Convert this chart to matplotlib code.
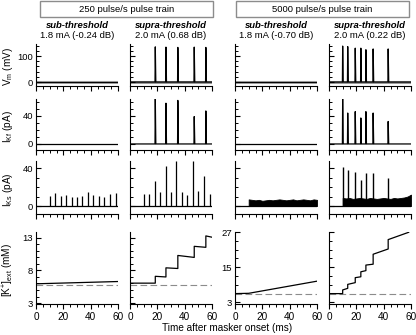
import numpy as np
import matplotlib.pyplot as plt
from matplotlib.ticker import MultipleLocator
from matplotlib.patches import Rectangle

plt.rcParams['font.family'] = ['Liberation Sans', 'DejaVu Sans']
plt.rcParams['mathtext.default'] = 'regular'
plt.rcParams['font.size'] = 6.8

# ---- text ----
headers = ['250 pulse/s pulse train', '5000 pulse/s pulse train']
conditions = ['sub-threshold', 'supra-threshold', 'sub-threshold', 'supra-threshold']
levels = ['1.8 mA (-0.24 dB)', '2.0 mA (0.68 dB)', '1.8 mA (-0.70 dB)', '2.0 mA (0.22 dB)']
ylabels = ['V$_{m}$ (mV)', 'I$_{Kf}$ (pA)', 'I$_{Ks}$ (pA)', '[K$^{+}$]$_{ext}$ (mM)']
xlabel = 'Time after masker onset (ms)'

# ---- data (ms, mV, pA, mM) ----
# spikes, 250 pulse/s supra-threshold
spk_250 = [18.5, 26.3, 35.0, 47.0, 55.5]
vm_250 = [135, 134, 133, 134, 133]
ikf_250 = [65, 58, 62, 39, 47]
# spikes, 5000 pulse/s supra-threshold
spk_5000 = [10.0, 13.7, 19.2, 23.3, 27.0, 32.3, 43.3]
vm_5000 = [138, 136, 130, 130, 124, 127, 127]
ikf_5000 = [65, 44, 46, 37, 46, 44, 32]

# IKs per pulse, 250 pulse/s
pulse_250 = [10, 14, 18, 22, 26, 30, 34, 38, 42, 46, 50, 54, 58.5]
iks_sub_250 = [10.2, 13.7, 10.5, 11.2, 9.2, 9.8, 10.2, 15.0, 11.6, 10.2, 9.8, 12.6, 13.3]
iks_supra_250 = [13.0, 12.5, 26.0, 14.7, 42.0, 14.7, 47.0, 15.0, 12.0, 47.0, 15.5, 32.0, 13.0]

# IKs envelope, 5000 pulse/s (dense pulses)
env_t = [10, 12.5, 15, 17.5, 20, 22.5, 25, 27.5, 30, 32.5, 35, 37.5, 40,
         42.5, 45, 47.5, 50, 52.5, 55, 57.5, 60]
iks_sub_5000 = [7.0, 6.5, 6.0, 6.5, 5.5, 6.0, 6.5, 6.0, 6.5, 7.0, 6.5, 6.0,
                6.5, 7.0, 6.0, 6.5, 7.0, 6.5, 6.0, 7.0, 6.5]
iks_supra_5000 = [8.5, 8.0, 8.5, 7.5, 8.0, 8.5, 8.0, 7.5, 8.5, 8.0, 7.5, 8.0,
                  8.5, 8.0, 7.5, 8.5, 8.0, 8.5, 9.0, 10.0, 12.0]
iks_pk_5000 = [41, 38, 36, 27, 35, 35, 29]

# extracellular K+
k_rest = 5.8
k_sub_250_t = [0, 60]
k_sub_250 = [5.95, 6.3]
k_pre_250 = [6.05, 7.0, 8.3, 10.0, 11.55]
k_post_250 = [7.1, 8.4, 10.3, 11.7, 13.3]
k_end_250 = 13.1
k_sub_5000_t = [0, 10, 60]
k_sub_5000 = [5.95, 6.05, 10.2]
k_pre_5000 = [5.95, 7.75, 9.7, 11.7, 13.8, 16.0, 21.2]
k_post_5000 = [7.2, 9.1, 11.4, 13.4, 15.7, 19.4, 24.4]
k_end_5000 = (58.3, 26.9)


def spike_trace(times, peaks):
    t, v = [0], [0]
    for s, p in zip(times, peaks):
        t += [s - 0.2, s, s + 0.4]
        v += [0, p, 0]
    return t + [60], v + [0]


def step_trace(times, pre, post, end_t, end_v):
    t, v = [0], [pre[0]]
    for s, a, b in zip(times, pre, post):
        t += [s, s]
        v += [a, b]
    return t + [end_t], v + [end_v]


W, H = 416, 335
fig = plt.figure(figsize=(W / 100, H / 100), dpi=100)

col_x = [36, 130, 235, 329]
col_w = 82
row_y = [(44, 86), (99, 150), (161, 214), (232, 304)]
ylims = [(-15, 146), (-8.6, 64), (-8.4, 47.4)]

axes = [[None] * 4 for _ in range(4)]
for r in range(4):
    for c in range(4):
        y0, y1 = row_y[r]
        ax = fig.add_axes([col_x[c] / W, 1 - y1 / H, col_w / W, (y1 - y0) / H])
        axes[r][c] = ax
        ax.spines[['top', 'right']].set_visible(False)
        for s in ['left', 'bottom']:
            ax.spines[s].set_linewidth(0.8)
        ax.set_xlim(0, 60)
        ax.xaxis.set_major_locator(MultipleLocator(20))
        ax.xaxis.set_minor_locator(MultipleLocator(5))
        ax.tick_params(axis='x', which='major', direction='out', length=3.5, width=0.8, pad=2,
                       labelsize=7.2)
        ax.tick_params(axis='x', which='minor', direction='out', length=2, width=0.7)
        ax.tick_params(axis='y', which='major', direction='in', length=3.5, width=0.8, pad=2)
        ax.tick_params(axis='y', which='minor', direction='in', length=2, width=0.7)
        if r < 3:
            ax.tick_params(axis='x', labelbottom=False)
            ax.set_ylim(*ylims[r])
        if c > 0 and not (r == 3 and c == 2):
            ax.tick_params(axis='y', labelleft=False)

# row 1: Vm
for c in range(4):
    ax = axes[0][c]
    ax.yaxis.set_major_locator(MultipleLocator(100))
    ax.yaxis.set_minor_locator(MultipleLocator(20))
    ax.axhline(0, color='0.6', lw=2.2, zorder=1)
axes[0][0].plot([0, 60], [0, 0], color='k', lw=0.7)
axes[0][2].plot([0, 60], [0, 0], color='k', lw=0.7)
t, v = spike_trace(spk_250, vm_250)
axes[0][1].plot(t, v, color='k', lw=0.9)
t, v = spike_trace(spk_5000, vm_5000)
axes[0][3].plot(t, v, color='k', lw=0.9)

# row 2: IKf
for c in range(4):
    ax = axes[1][c]
    ax.yaxis.set_major_locator(MultipleLocator(40))
    ax.yaxis.set_minor_locator(MultipleLocator(10))
axes[1][0].plot([0, 60], [0, 0], color='k', lw=0.9)
axes[1][2].plot([0, 60], [0, 0], color='k', lw=0.9)
t, v = spike_trace(spk_250, ikf_250)
axes[1][1].plot(t, v, color='k', lw=0.9)
t, v = spike_trace(spk_5000, ikf_5000)
axes[1][3].plot(t, v, color='k', lw=0.9)

# row 3: IKs
for c in range(4):
    ax = axes[2][c]
    ax.yaxis.set_major_locator(MultipleLocator(40))
    ax.yaxis.set_minor_locator(MultipleLocator(10))
    ax.plot([0, 60], [0, 0], color='k', lw=0.9)
axes[2][0].vlines(pulse_250, 0, iks_sub_250, color='k', lw=0.9)
axes[2][1].vlines(pulse_250, 0, iks_supra_250, color='k', lw=0.9)
axes[2][2].fill_between(env_t, 0, iks_sub_5000, color='k', lw=0.6)
axes[2][3].fill_between(env_t, 0, iks_supra_5000, color='k', lw=0.6)
axes[2][3].vlines(spk_5000, 0, iks_pk_5000, color='k', lw=1.0)

# row 4: [K+]ext
for c in range(4):
    ax = axes[3][c]
    ax.axhline(k_rest, color='0.55', lw=0.8, dashes=(6, 3), zorder=1)
    if c < 2:
        ax.set_ylim(2.85, 13.9)
        ax.set_yticks([3, 8, 13])
        ax.yaxis.set_minor_locator(MultipleLocator(1))
    else:
        ax.set_ylim(2.4, 27)
        ax.set_yticks([3, 15, 27])
        ax.yaxis.set_minor_locator(MultipleLocator(3))
axes[3][0].plot(k_sub_250_t, k_sub_250, color='k', lw=0.9)
t, v = step_trace(spk_250, k_pre_250, k_post_250, 60, k_end_250)
axes[3][1].plot(t, v, color='k', lw=0.9)
axes[3][2].plot(k_sub_5000_t, k_sub_5000, color='k', lw=0.9)
t, v = step_trace(spk_5000, k_pre_5000, k_post_5000, *k_end_5000)
axes[3][3].plot(t, v, color='k', lw=0.9)

# headers
for i, (x0, x1) in enumerate([(40, 213), (236, 409)]):
    fig.patches.append(Rectangle((x0 / W, 1 - 17 / H), (x1 - x0) / W, 16 / H,
                                 transform=fig.transFigure, fill=False,
                                 edgecolor='0.55', lw=1.0))
    fig.text((x0 + x1) / 2 / W, 1 - 9 / H, headers[i], ha='center', va='center')

for c in range(4):
    xc = (col_x[c] + col_w / 2) / W
    fig.text(xc, 1 - 25 / H, conditions[c], ha='center', va='center',
             fontweight='bold', fontstyle='italic')
    fig.text(xc, 1 - 36 / H, levels[c], ha='center', va='center')

for r in range(4):
    y0, y1 = row_y[r]
    fig.text(8 / W, 1 - ((y0 + y1) / 2 + 2) / H, ylabels[r], rotation=90,
             ha='center', va='center', fontsize=7.2)

fig.text(227 / W, 1 - 328 / H, xlabel, ha='center', va='center', fontsize=7.2)

fig.savefig('out.png', dpi=100)
